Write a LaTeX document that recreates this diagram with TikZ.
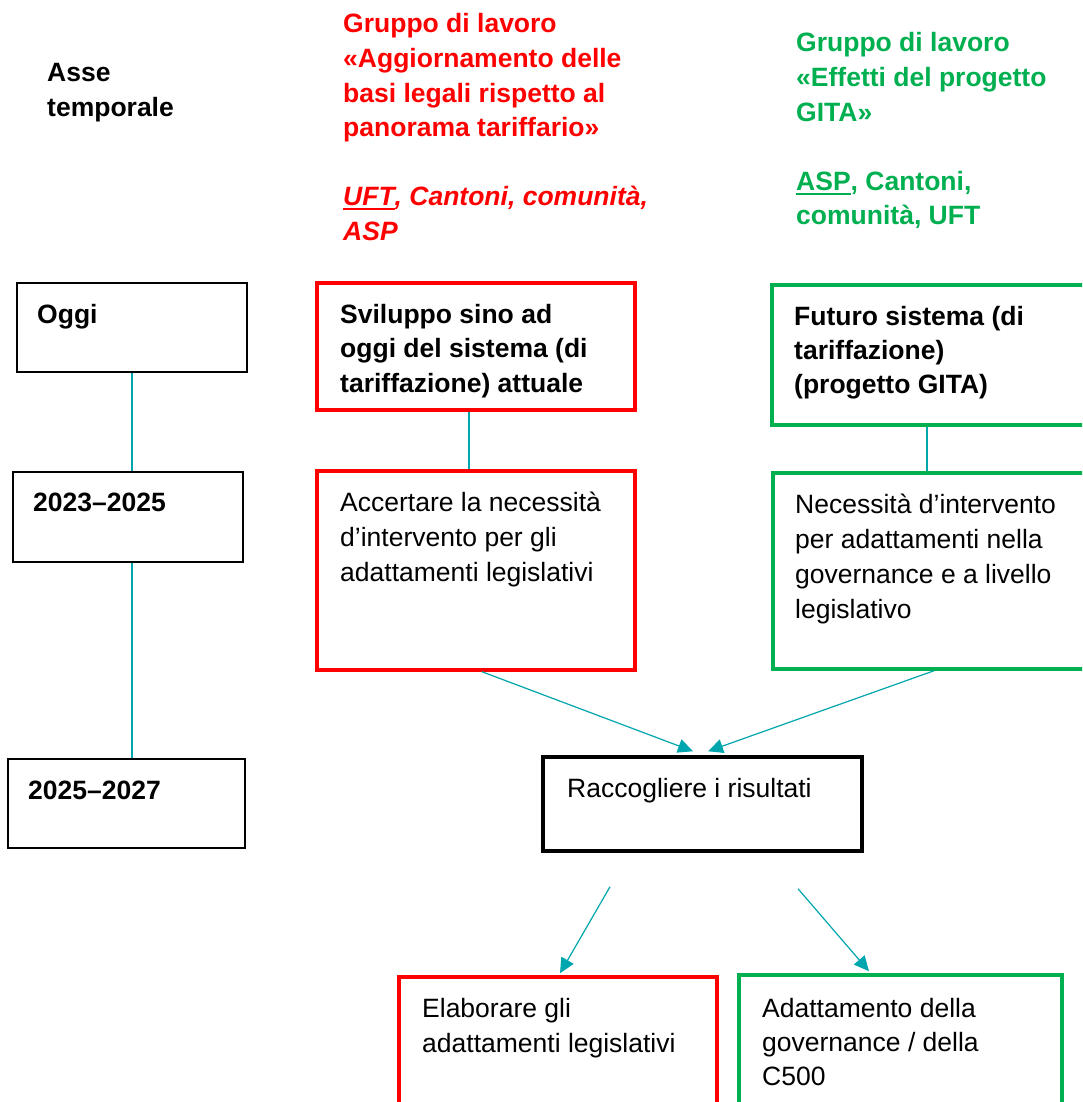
\documentclass[tikz,border=0pt]{standalone}
\usepackage{fontspec}
\setmainfont{Liberation Sans}
\usetikzlibrary{arrows.meta}
\definecolor{tealc}{RGB}{0,166,174}
\definecolor{grn}{RGB}{0,176,80}
\definecolor{rd}{RGB}{255,0,0}
\newsavebox\ulbox
\newcommand\myul[1]{\sbox\ulbox{#1}\leavevmode\rlap{\rule[-4.5pt]{\wd\ulbox}{2.2pt}}\usebox\ulbox}
\newcommand\lines[1]{\begin{tabular}[t]{@{}l@{}}#1\end{tabular}}
\tikzset{
  x=1pt, y=1pt,
  txt/.style={anchor=base west, inner sep=0pt, font=\fontsize{26.5pt}{35pt}\selectfont},
  hdtxt/.style={txt, font=\fontsize{26.5pt}{34.6pt}\selectfont\bfseries},
  bbox/.style={rectangle, draw=black, line width=2pt, inner sep=0pt},
  rbox/.style={rectangle, draw=rd, line width=3.5pt, inner sep=0pt},
  gbox/.style={rectangle, draw=grn, line width=3.5pt, inner sep=0pt},
  kbox/.style={rectangle, draw=black, line width=3.5pt, inner sep=0pt},
  vline/.style={draw=tealc, line width=2pt},
  arr/.style={draw=tealc, line width=1.2pt, -{Triangle[length=15pt,width=14pt]}}
}
\begin{document}
\begin{tikzpicture}
\useasboundingbox (0,0) rectangle (1082,-1102);
\fill[white] (0,0) rectangle (1082,-1102);
\clip (0,0) rectangle (1082,-1102);

% headers
\node[hdtxt] (asse) at (47,-82) {\lines{Asse\\temporale}};
\node[hdtxt, text=rd] (redhead) at (343,-33) {\lines{Gruppo di lavoro\\«Aggiornamento delle\\basi legali rispetto al\\panorama tariffario»\\[34.6pt]\itshape\myul{UFT}, Cantoni, comunità,\\\itshape ASP}};
\node[hdtxt, text=grn] (grnhead) at (796,-52) {\lines{Gruppo di lavoro\\«Effetti del progetto\\GITA»\\[34.6pt]\myul{ASP}, Cantoni,\\comunità, UFT}};

% time axis boxes
\node[bbox, minimum width=230pt, minimum height=89pt] (oggi) at (132,-327.5) {};
\node[bbox, minimum width=230pt, minimum height=90pt] (y2023) at (128,-517) {};
\node[bbox, minimum width=237pt, minimum height=89pt] (y2025) at (126.5,-803.5) {};
\node[txt, font=\fontsize{26.5pt}{35pt}\selectfont\bfseries] (toggi) at (37,-323) {Oggi};
\node[txt, font=\fontsize{26.5pt}{35pt}\selectfont\bfseries] (t2023) at (33,-511) {2023–2025};
\node[txt, font=\fontsize{26.5pt}{35pt}\selectfont\bfseries] (t2025) at (28,-799) {2025–2027};

% red column
\node[rbox, minimum width=318pt, minimum height=127pt] (red1) at (476,-346.5) {};
\node[rbox, minimum width=318pt, minimum height=199pt] (red2) at (476,-570.5) {};
\node[txt, font=\fontsize{26.5pt}{34.5pt}\selectfont\bfseries] (tred1) at (340,-323) {\lines{Sviluppo sino ad\\oggi del sistema (di\\tariffazione) attuale}};
\node[txt] (tred2) at (340,-511) {\lines{Accertare la necessità\\d’intervento per gli\\adattamenti legislativi}};

% green column
\node[gbox, minimum width=323pt, minimum height=140pt] (grn1) at (933.5,-355) {};
\node[gbox, minimum width=322pt, minimum height=196pt] (grn2) at (934,-571) {};
\node[txt, font=\fontsize{26.5pt}{34pt}\selectfont\bfseries] (tgrn1) at (794,-325) {\lines{Futuro sistema (di\\tariffazione)\\(progetto GITA)}};
\node[txt] (tgrn2) at (795,-513) {\lines{Necessità d’intervento\\per adattamenti nella\\governance e a livello\\legislativo}};

% middle and bottom
\node[kbox, minimum width=319pt, minimum height=94pt] (racc) at (702.5,-804) {};
\node[txt] (tracc) at (567,-797) {Raccogliere i risultati};
\node[rbox, minimum width=318pt, minimum height=143pt] (elab) at (558,-1048.5) {};
\node[gbox, minimum width=323pt, minimum height=145pt] (adat) at (900.5,-1047.5) {};
\node[txt] (telab) at (422,-1017) {\lines{Elaborare gli\\adattamenti legislativi}};
\node[txt, font=\fontsize{26.5pt}{34pt}\selectfont] (tadat) at (762,-1017) {\lines{Adattamento della\\governance / della\\C500}};

% connectors
\draw[vline] (oggi.south) -- (oggi.south |- y2023.north);
\draw[vline] (oggi.south |- y2023.south) -- (oggi.south |- y2025.north);
\draw[vline] ([xshift=-7pt]red1.south) -- ([xshift=-7pt]red1.south |- red2.north);
\draw[vline] ([xshift=-6.5pt]grn1.south) -- ([xshift=-6.5pt]grn1.south |- grn2.north);
\draw[arr] ([xshift=6pt]red2.south) -- ([xshift=-9.5pt,yshift=4pt]racc.north);
\draw[arr] (grn2.south) -- ([xshift=5.5pt,yshift=4pt]racc.north);
\coordinate (rl) at ([xshift=-92.5pt,yshift=-34pt]racc.south);
\coordinate (rr) at ([xshift=95.5pt,yshift=-36pt]racc.south);
\draw[arr] (rl) -- ([xshift=2pt,yshift=2pt]elab.north);
\draw[arr] (rr) -- ([xshift=-31.5pt,yshift=2pt]adat.north);
\end{tikzpicture}
\end{document}
